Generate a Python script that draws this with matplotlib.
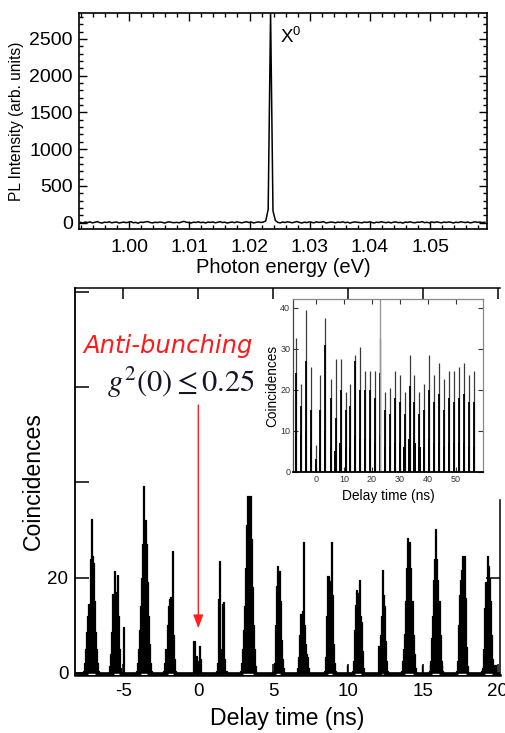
import numpy as np
import matplotlib
matplotlib.use("Agg")
import matplotlib.pyplot as plt
from matplotlib.ticker import MultipleLocator

plt.rcParams['font.family'] = ['Liberation Sans', 'DejaVu Sans']
plt.rcParams['mathtext.fontset'] = 'stix'

# ---------------- data: PL spectrum ----------------
energy_start = 0.9919
energy_step = 0.0004
pl_intensity = [
    4, -6, 9, 2, 11, -3, 6, 14, 1, -5, 7, 3, 12, -2, 5, 9, -4, 2, 8, 0,
    6, 13, -1, 4, -7, 8, 3, 10, 15, 2, -3, 6, 1, 9, 4, -5, 7, 11, 3, 0,
    5, -2, 9, 18, 6, 2, -4, 7, 3, 12, 1, 6, -3, 8, 4, 10, -1, 5, 14, 2,
    7, -5, 3, 9, 0, 11, 4, -2, 6, 13, 2, 8, -4, 5, 10, 3, 8, 25, 180, 2860,
    160, 30, 4, -3, 9, 2, 12, 6, -1, 8, 15, 3, -4, 7, 1, 10, 5, -2, 11, 4,
    6, 14, -3, 2, 9, 5, -1, 8, 3, 12, 0, 7, -5, 4, 10, 6, 1, -2, 9, 3,
    11, 4, -4, 7, 2, 13, 5, 0, 8, -3, 6, 10, 1, 4, -6, 9, 3, 12, 2, -1,
    7, 5, 14, 0, 6, -3, 9, 2, 11, 4, -2, 8, 3, 10, 5, -4, 7, 1, 13, 6,
    2, 9, -3, 5, 12, 4, 8, 1, 6,
]
pl_xticks = [1.00, 1.01, 1.02, 1.03, 1.04, 1.05]
pl_yticks = [0, 500, 1000, 1500, 2000, 2500]

# ---------------- data: coincidence histogram ----------------
bin_width = 0.072
peak_centers = [-7.15, -5.48, -3.63, -1.87, -0.07, 1.56, 3.32, 5.35,
                7.0, 8.8, 10.66, 12.3, 14.05, 15.85, 17.6, 19.35]
peak_profiles = [
    [0, 0.5, 2, 5, 8.5, 12, 14.5, 24, 32.3, 24.5, 23, 15, 8.5, 5, 2, 0.5, 0],
    [0, 0, 1.5, 4, 8.5, 16.5, 21.4, 17, 16, 20.5, 12, 5, 1, 0, 0, 9.7, 0],
    [0, 0.5, 2, 5, 9, 14, 20, 27, 39.2, 32, 27, 19, 12, 6, 2, 0.5, 0],
    [0, 0, 0.5, 2, 5, 10, 14, 15.5, 16, 14, 25.5, 8, 3, 0.5, 0, 0, 0],
    [0, 0, 0, 0, 0, 6.8, 2, 3.5, 1, 2.5, 5.7, 3, 0, 0, 0, 0, 0],
    [0, 0, 0, 0.5, 2, 15.5, 23.4, 3, 5, 14.5, 14.8, 3, 0.5, 0, 0, 0, 0],
    [0, 0.5, 2, 5, 9, 14, 22, 31, 37.2, 31, 37.2, 28, 18, 10, 5, 1.5, 0],
    [0, 0, 0, 0.5, 2, 10, 18.3, 22.4, 16, 21.4, 15, 7, 3, 1, 0, 0, 0],
    [0, 0, 0, 1, 3.3, 8, 12.3, 13, 27.4, 10, 6, 4, 3.3, 1, 0, 0, 0],
    [0, 0, 0, 0.5, 3.3, 12, 20.4, 19.2, 16, 27.4, 16.4, 6, 2, 0.5, 0, 0, 0],
    [0, 0, 0, 0.5, 2.6, 9, 14.3, 17.4, 16.8, 19.5, 12, 10.6, 4.7, 1, 0, 0, 0],
    [0, 0, 0, 0, 5.7, 5.7, 8, 12, 21.5, 16.4, 14, 6.8, 2.6, 0.5, 0, 0, 0],
    [0, 0.5, 2.6, 5, 8.1, 15, 22, 28.4, 27.4, 27.4, 22, 15, 8, 4, 1, 0, 0],
    [0, 0, 0.5, 2.6, 7.4, 12, 19.5, 24, 30.3, 24, 19.6, 15, 8, 2.6, 0.5, 0, 0],
    [0, 0, 0, 0.5, 2.6, 10, 16.4, 19.5, 21.7, 24.5, 24.5, 15.7, 5.4, 1.5, 0, 0, 0],
    [0, 0, 0.5, 1, 5, 13.7, 19, 24.5, 22.4, 20, 15.2, 8, 3, 1.7, 0, 1.7, 0],
]
stray_times = [9.95, 14.95, 15.46, 16.3]
stray_counts = [1.6, 1.6, 1.6, 1.6]
baseline_gap_widths = [0.45, 0.33, 0.45, 0.33, 0, 0, 0.7, 0.27,
                       0, 0.28, 0.35, 0.1, 0.55, 0.5, 0.55, 0.45]
main_xticks = [-5, 0, 5, 10, 15, 20]
main_yticks = [0, 20, 40, 60, 80]
main_yticklabels = ['0', '20', '', '', '']

# ---------------- data: inset ----------------
inset_positions = [-7.15, -5.48, -3.63, -1.87, -0.07, 1.56, 3.32, 5.35,
                   7.0, 8.8, 10.66, 12.3, 14.05, 15.85, 17.6, 19.35,
                   21.12, 22.89, 24.66, 26.42, 28.19, 29.96, 31.73, 33.49,
                   35.26, 37.03, 38.8, 40.56, 42.33, 44.1, 45.87, 47.63,
                   49.4, 51.17, 52.94, 54.7, 56.47]
inset_max = [32.5, 21.5, 39.5, 25.5, 6.5, 23.5, 37.5, 22.5, 27.5, 27.5,
             19.5, 21.5, 28.5, 30.5, 24.5, 24.5, 24.5, 32.5, 19.5, 20.5,
             24.5, 23.5, 19.5, 28.5, 23.5, 19.5, 21.5, 28.5, 23.5, 26.5,
             22.5, 24.5, 24.5, 25.5, 26.5, 23.5, 24.5]
inset_body = [24, 16, 27, 15, 3, 15, 31, 18, 13, 20, 15, 16, 27, 20, 20, 20,
              18, 24, 15, 14, 18, 17, 14, 21, 17, 14, 15, 20, 17, 19, 15, 18,
              17, 18, 19, 17, 17]
inset_base = [9, 9, 10, 6, 2, 5, 10, 6, 5, 7, 6, 6, 9, 8, 8, 8, 7, 9, 6, 6,
              7, 7, 6, 8, 7, 6, 6, 8, 7, 7, 6, 7, 7, 7, 7, 6, 6]
inset_marker = [22.89]
inset_xticks = [0, 10, 20, 30, 40, 50]
inset_yticks = [0, 10, 20, 30, 40]

W, H = 506, 733
fig = plt.figure(figsize=(W / 100, H / 100), dpi=100)


def px_axes(l, t, r, b):
    return fig.add_axes([l / W, 1 - b / H, (r - l) / W, (b - t) / H])


# ---------------- top panel ----------------
ax1 = px_axes(79, 13, 487, 229)
energy = energy_start + energy_step * np.arange(len(pl_intensity))
ax1.plot(energy, pl_intensity, color='black', lw=1.1)
ax1.set_xlim(0.99166, 1.05947)
ax1.set_ylim(-86, 2853)
ax1.set_xticks(pl_xticks)
ax1.set_xticklabels([f"{v:.2f}" for v in pl_xticks])
ax1.set_yticks(pl_yticks)
ax1.xaxis.set_minor_locator(MultipleLocator(0.002))
ax1.yaxis.set_minor_locator(MultipleLocator(100))
ax1.tick_params(which='both', direction='in', top=True, right=True, width=1)
ax1.tick_params(which='major', length=6, labelsize=14)
ax1.tick_params(which='minor', length=3)
ax1.tick_params(axis='y', pad=4.5)
ax1.tick_params(axis='x', pad=7)
for s in ax1.spines.values():
    s.set_linewidth(1.2)
ax1.set_xlabel('Photon energy (eV)', fontsize=14.5)
ax1.set_ylabel('PL Intensity (arb. units)', fontsize=11.2)
ax1.xaxis.set_label_coords(0.5, -0.135)
ax1.yaxis.set_label_coords(-0.135, 0.5)
ax1.text(1.0251, 2441, r'X$^{\mathregular{0}}$', fontsize=13.5, va='baseline')

# ---------------- bottom panel ----------------
ax2 = px_axes(75, 288, 500, 675)
ax2.set_xlim(-8.23, 20.14)
ax2.set_ylim(-0.42, 80.75)
ax2.hlines(0, -8.23, 20.14, color='black', lw=1.9, zorder=2)
offsets = (np.arange(17) - 8) * bin_width
for c, prof in zip(peak_centers, peak_profiles):
    t = c + offsets
    ax2.fill_between(t, 0, prof, step='mid', color='black', lw=0, zorder=3)
    ax2.step(t, prof, where='mid', color='black', lw=0.9, zorder=3)
ax2.vlines(stray_times, 0, stray_counts, color='black', lw=1.0, zorder=3)
for c, w in zip(peak_centers, baseline_gap_widths):
    if w > 0:
        ax2.hlines(-0.12, c - w / 2, c + w / 2, color='white', lw=1.0, zorder=4)
ax2.set_xticks(main_xticks)
ax2.set_xticklabels([f"{v:d}" for v in main_xticks])
ax2.set_yticks(main_yticks)
ax2.set_yticklabels(main_yticklabels)
ax2.tick_params(direction='in', top=True, right=True, labelsize=13.5, width=1.1)
ax2.tick_params(axis='y', length=10, pad=4.8)
ax2.tick_params(axis='x', length=8, pad=5.4)
for tk, v in zip(ax2.yaxis.get_major_ticks(), main_yticks):
    tk.tick2line.set_visible(v == 20)
ax2.spines['right'].set_bounds(-0.42, 36.3)
ax2.spines['bottom'].set_linewidth(1.8)
ax2.spines['left'].set_linewidth(1.3)
ax2.spines['top'].set_linewidth(1.1)
ax2.spines['right'].set_linewidth(1.1)
ax2.set_xlabel('Delay time (ns)', fontsize=16.6)
ax2.set_ylabel('Coincidences', fontsize=16.6)
ax2.xaxis.set_label_coords(0.5, -0.083)
ax2.yaxis.set_label_coords(-0.0706, 0.5)

# annotation arrow to the zero-delay peak
ax2.annotate('', xy=(0, 9.4), xytext=(0, 56.2),
             arrowprops=dict(arrowstyle='-|>,head_length=0.8,head_width=0.3',
                             color='#ff2020', lw=1.0, mutation_scale=10,
                             shrinkA=0, shrinkB=0), zorder=5)
fig.text(83 / W, 1 - 353 / H, 'Anti-bunching', color='#ff1a1a', fontsize=17.5,
         family='DejaVu Sans', style='oblique', ha='left', va='baseline')
fig.text(255 / W, 1 - 392 / H, r'$g^2(0) \leq 0.25$', color='#15152a',
         fontsize=22, ha='right', va='baseline')

# ---------------- inset ----------------
ax3 = px_axes(293, 299, 483, 472)
ax3.set_facecolor('white')
ax3.set_xlim(-8.23, 59.8)
ax3.set_ylim(-0.07, 42.1)
ax3.bar(inset_positions, inset_base, width=0.8, color='black', lw=0)
ax3.vlines(inset_positions, 0, inset_max, color='#3a3a3a', lw=0.9)
ax3.vlines(inset_positions, 0, inset_body, color='black', lw=1.3)
for m in inset_marker:
    ax3.axvline(m, color='#999999', lw=1.0)
ax3.set_xticks(inset_xticks)
ax3.set_yticks(inset_yticks)
ax3.tick_params(direction='in', top=True, right=True, labelsize=6.5,
                length=3.5, width=0.8, colors='#333333', pad=2)
for side in ['top', 'right']:
    ax3.spines[side].set_color('#888888')
    ax3.spines[side].set_linewidth(0.9)
ax3.spines['left'].set_color('#444444')
ax3.spines['left'].set_linewidth(0.9)
ax3.spines['bottom'].set_linewidth(1.3)
ax3.set_xlabel('Delay time (ns)', fontsize=9.9)
ax3.set_ylabel('Coincidences', fontsize=9.8)
ax3.xaxis.set_label_coords(0.5, -0.098)
ax3.yaxis.set_label_coords(-0.074, 0.5)

fig.savefig('out.png', dpi=100)
